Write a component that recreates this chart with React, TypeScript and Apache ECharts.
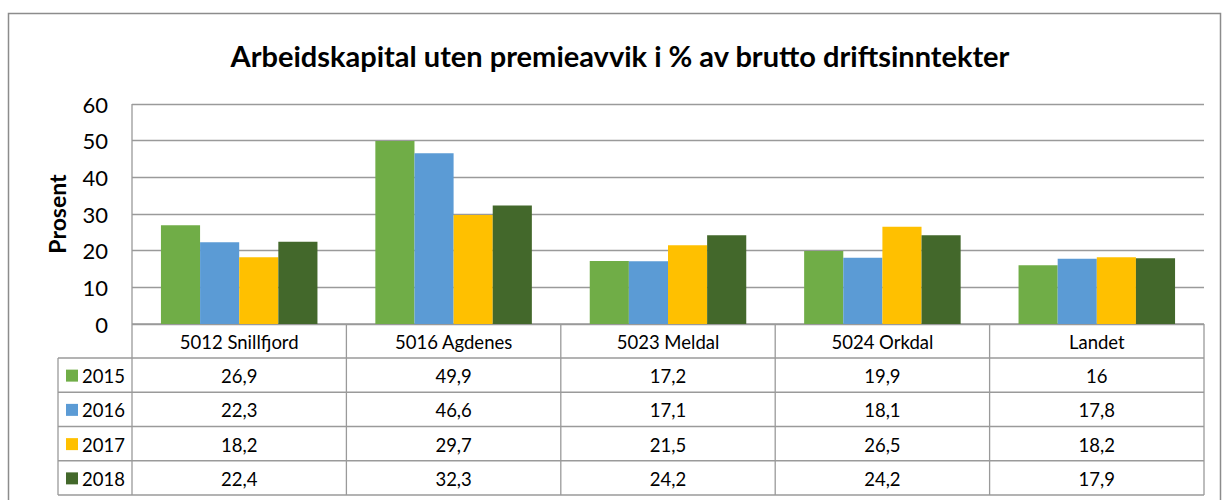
import React, { useEffect, useRef } from "react";
import * as echarts from "echarts";

const categories = ["5012 Snillfjord", "5016 Agdenes", "5023 Meldal", "5024 Orkdal", "Landet"];
const seriesNames = ["2015", "2016", "2017", "2018"];
const v2015 = [26.9, 49.9, 17.2, 19.9, 16];
const v2016 = [22.3, 46.6, 17.1, 18.1, 17.8];
const v2017 = [18.2, 29.7, 21.5, 26.5, 18.2];
const v2018 = [22.4, 32.3, 24.2, 24.2, 17.9];
const seriesValues = [v2015, v2016, v2017, v2018];
const colors = ["#70AD47", "#5B9BD5", "#FFC000", "#43682B"];
const yTicks = [0, 10, 20, 30, 40, 50, 60];

const FONT = "Lato, 'Open Sans', sans-serif";

export default function App() {
  const ref = useRef<HTMLDivElement>(null);
  useEffect(() => {
    if (!ref.current) return;
    const chart = echarts.init(ref.current, null, { renderer: "svg" });
    const W = 1222;
    const plotL = 132;
    const plotR = 1204;
    const plotT = 104;
    const plotB = 324;
    const rowH = 34.25;
    const headB = 358;
    const tableL = 58;
    const catW = (plotR - plotL) / categories.length;
    const lineColor = "#9a9a9a";
    const tfont = `18.5px ${FONT}`;

    const fmt = (v: number) => String(v).replace(".", ",");

    const graphic: any[] = [];
    graphic.push({
      type: "rect",
      shape: { x: 8.5, y: 13.5, width: 1212, height: 500 },
      style: { fill: "none", stroke: "#8c8c8c", lineWidth: 1.5 },
      silent: true,
    });
    graphic.push({
      type: "text",
      x: 620,
      y: 55,
      style: {
        text: "Arbeidskapital uten premieavvik i % av brutto driftsinntekter",
        fill: "#000",
        font: `bold 29px ${FONT}`,
        textAlign: "center",
        textVerticalAlign: "middle",
      },
      silent: true,
    });
    const nRows = seriesNames.length;
    for (let r = 0; r <= nRows; r++) {
      const y = headB + r * rowH;
      graphic.push({
        type: "line",
        shape: { x1: tableL, y1: y, x2: plotR, y2: y },
        style: { stroke: lineColor, lineWidth: 1.3 },
        silent: true,
      });
    }
    graphic.push({
      type: "line",
      shape: { x1: plotL, y1: plotB, x2: plotR, y2: plotB },
      style: { stroke: lineColor, lineWidth: 1.3 },
      silent: true,
    });
    graphic.push({
      type: "line",
      shape: { x1: tableL, y1: headB, x2: tableL, y2: headB + nRows * rowH },
      style: { stroke: lineColor, lineWidth: 1.3 },
      silent: true,
    });
    for (let k = 0; k <= categories.length; k++) {
      const x = plotL + k * catW;
      graphic.push({
        type: "line",
        shape: { x1: x, y1: k === 0 ? plotT : plotB, x2: x, y2: headB + nRows * rowH },
        style: { stroke: lineColor, lineWidth: 1.3 },
        silent: true,
      });
    }
    categories.forEach((c, j) => {
      graphic.push({
        type: "text",
        x: plotL + catW * (j + 0.5),
        y: (plotB + headB) / 2 + 1,
        style: { text: c, fill: "#000", font: tfont, textAlign: "center", textVerticalAlign: "middle" },
        silent: true,
      });
    });
    seriesNames.forEach((name, i) => {
      const cy = headB + rowH * (i + 0.5) + 1;
      graphic.push({
        type: "rect",
        shape: { x: 66, y: cy - 6.5, width: 12, height: 12 },
        style: { fill: colors[i] },
        silent: true,
      });
      graphic.push({
        type: "text",
        x: 82,
        y: cy,
        style: { text: name, fill: "#000", font: tfont, textAlign: "left", textVerticalAlign: "middle" },
        silent: true,
      });
      seriesValues[i].forEach((v, j) => {
        graphic.push({
          type: "text",
          x: plotL + catW * (j + 0.5),
          y: cy,
          style: { text: fmt(v), fill: "#000", font: tfont, textAlign: "center", textVerticalAlign: "middle" },
          silent: true,
        });
      });
    });

    chart.setOption({
      animation: false,
      backgroundColor: "#fff",
      grid: { left: plotL, right: W - plotR, top: plotT, bottom: 500 - plotB, containLabel: false },
      xAxis: {
        type: "category",
        data: categories,
        axisLine: { show: false },
        axisTick: { show: false },
        axisLabel: { show: false },
      },
      yAxis: {
        type: "value",
        min: yTicks[0],
        max: yTicks[yTicks.length - 1],
        interval: 10,
        name: "Prosent",
        nameLocation: "middle",
        nameGap: 64,
        nameRotate: 90,
        nameTextStyle: { fontFamily: FONT, fontWeight: "bold", fontSize: 23, color: "#000" },
        axisLine: { show: false },
        axisTick: { show: false },
        axisLabel: { fontFamily: FONT, fontSize: 22, color: "#000", margin: 24 },
        splitLine: { lineStyle: { color: lineColor, width: 1.3 } },
      },
      series: seriesNames.map((n, i) => ({
        name: n,
        type: "bar",
        data: seriesValues[i],
        barGap: "0%",
        barCategoryGap: "27%",
        itemStyle: { color: colors[i] },
      })),
      graphic,
    });
    return () => chart.dispose();
  }, []);
  return <div ref={ref} style={{ position: "fixed", left: 0, top: 0, width: 1222, height: 500 }} />;
}
